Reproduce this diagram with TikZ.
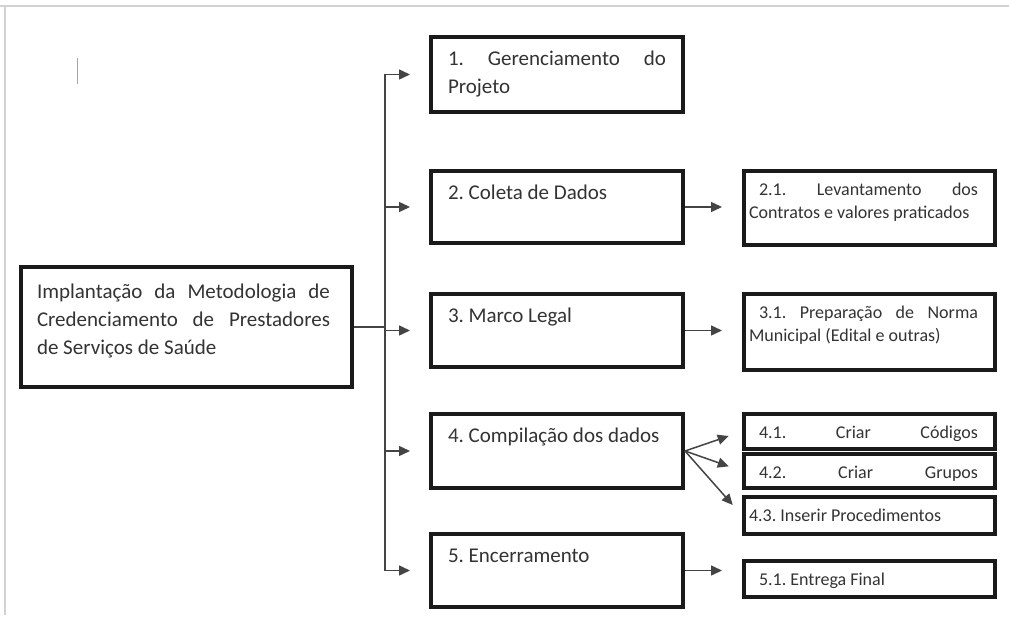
\documentclass[tikz,border=0pt]{standalone}
\usepackage{fontspec}
\setmainfont{Carlito}
\usetikzlibrary{arrows.meta,calc}

\definecolor{ink}{HTML}{333333}
\definecolor{boxline}{HTML}{1A1A1A}
\definecolor{wire}{HTML}{444444}

\newcommand{\bigtxt}{\fontsize{21}{28}\selectfont}
\newcommand{\smalltxt}{\fontsize{18}{23}\selectfont}
\newcommand{\wbstext}[4][0pt]{\parbox[c][#3][t]{#2}{\frenchspacing\rightskip=#1\relax\strut #4}}

\tikzset{
  wbs/.style={draw=boxline, line width=4pt, inner xsep=17pt, inner ysep=9pt,
    anchor=north west, text=ink, font=\bigtxt},
  wbssub/.style={wbs, inner xsep=5pt, inner ysep=8pt, font=\smalltxt},
  link/.style={draw=wire, line width=1.5pt},
  arr/.style={link, -{Triangle[length=11pt,width=10pt]}, shorten >=19pt},
}

\begin{document}
\begin{tikzpicture}[x=1pt,y=-1pt]
    \useasboundingbox[fill=white] (0,0) rectangle (1009,620);
    \draw[gray!35, line width=1.5pt] (0,6) -- (1009,6) (5,6) -- (5,615);
    \draw[gray!70, line width=1pt] (77,58) -- (77,84);

    \node[wbs, inner ysep=12pt, inner xsep=16pt] (root) at (19,265)
      {\wbstext[6pt]{299pt}{96pt}{Implantação da Metodologia de\linebreak
       Credenciamento de Prestadores\linebreak de Serviços de Saúde}};

    \node[wbs] (p1) at (429,35)  {\wbstext{218pt}{57pt}{1. Gerenciamento do\linebreak Projeto}};
    \node[wbs] (p2) at (429,169) {\wbstext{218pt}{54pt}{2. Coleta de Dados}};
    \node[wbs] (p3) at (429,292) {\wbstext{218pt}{55pt}{3. Marco Legal}};
    \node[wbs] (p4) at (429,412) {\wbstext{218pt}{56pt}{4. Compilação dos dados}};
    \node[wbs] (p5) at (429,532) {\wbstext{218pt}{55pt}{5. Encerramento}};

    \node[wbssub] (s21) at (742,169) {\wbstext[12pt]{241pt}{58pt}{\hspace*{10pt}2.1. Levantamento dos\linebreak Contratos e valores praticados}};
    \node[wbssub] (s31) at (742,292) {\wbstext[12pt]{241pt}{60pt}{\hspace*{10pt}3.1. Preparação de Norma\linebreak Municipal (Edital e outras)}};
    \node[wbssub] (s41) at (742,412) {\wbstext[12pt]{241pt}{19pt}{\hspace*{10pt}4.1.\hfill Criar\hfill Códigos}};
    \node[wbssub] (s42) at (742,452) {\wbstext[12pt]{241pt}{18pt}{\hspace*{10pt}4.2.\hfill Criar\hfill Grupos}};
    \node[wbssub] (s43) at (742,495) {\wbstext[12pt]{241pt}{21pt}{4.3. Inserir Procedimentos}};
    \node[wbssub] (s51) at (742,559) {\wbstext[12pt]{241pt}{20pt}{\hspace*{10pt}5.1. Entrega Final}};

    \coordinate (trunk) at (385,0);
    \draw[link] (root.east) -- (root.east -| trunk);
    \draw[link] (p1.west -| trunk) -- (p5.west -| trunk);
    \foreach \b in {p1,p2,p3,p4,p5} {\draw[arr] (\b.west -| trunk) -- (\b.west);};

    \draw[arr, shorten >=20pt] (p2.east) -- (p2.east -| s21.west);
    \draw[arr, shorten >=20pt] (p3.east) -- (p3.east -| s31.west);
    \draw[arr, shorten >=20pt] (p5.east) -- (p5.east -| s51.west);
    \foreach \s in {s41,s42,s43} {\draw[arr, shorten >=14pt] (p4.east) -- (\s.west);};
\end{tikzpicture}
\end{document}
